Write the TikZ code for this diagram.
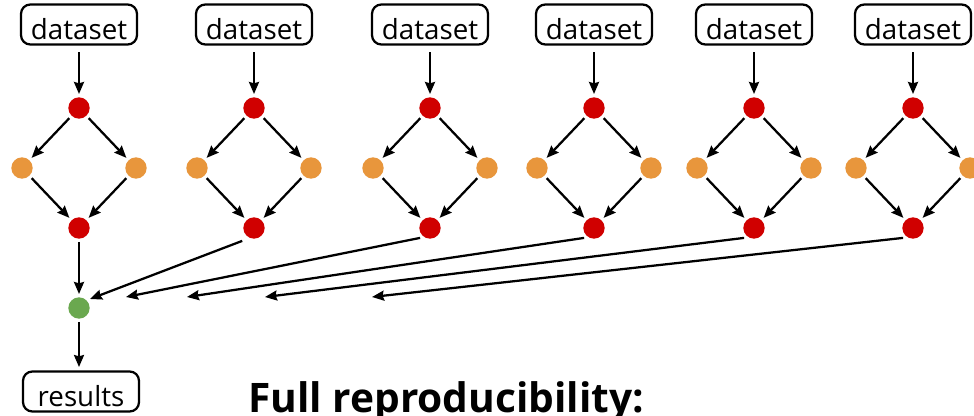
\documentclass[tikz,border=0pt]{standalone}
\usepackage{fontspec}
\setmainfont{Open Sans}
\usetikzlibrary{arrows.meta}
\definecolor{dred}{HTML}{D00000}
\definecolor{dorange}{HTML}{E8963C}
\definecolor{dgreen}{HTML}{6AA84F}
\begin{document}
\begin{tikzpicture}[x=0.75pt,y=-0.75pt,
  box/.style={draw,line width=1.7pt,rounded corners=7pt,minimum width=87pt,minimum height=30pt,
    inner ysep=0pt,text height=26.25pt,text depth=3.75pt,font=\fontsize{20.8}{24}\selectfont},
  dot/.style={circle,minimum size=16pt,inner sep=0pt,outer sep=2.5pt},
  reddot/.style={dot,fill=dred},
  orangedot/.style={dot,fill=dorange},
  greendot/.style={dot,fill=dgreen},
  arr/.style={line width=1.7pt,-{Stealth[length=9pt,width=7.5pt,inset=1pt]}},
]
\useasboundingbox (0,0) rectangle (974,416);
\foreach \i/\x in {1/79,2/254,3/430,4/594,5/754,6/913}{
  \node[box] (d\i) at (\x,24.5) {dataset};
  \node[reddot] (t\i) at (\x,108) {};
  \node[orangedot] (l\i) at (\x-57,168) {};
  \node[orangedot] (r\i) at (\x+57,168) {};
  \node[reddot] (b\i) at (\x,228) {};
  \draw[arr,shorten <=5pt] (d\i) -- (t\i);
  \draw[arr] (t\i) -- (l\i);
  \draw[arr] (t\i) -- (r\i);
  \draw[arr] (l\i) -- (b\i);
  \draw[arr] (r\i) -- (b\i);
}
\node[greendot] (g) at (79,308) {};
\node[box] (res) at (81,391.5) {results};
\draw[arr] (b1) -- (g);
\draw[arr,shorten >=2.5pt] (g) -- (g |- res.north);
\coordinate (e2) at (90,299);
\coordinate (e3) at (126,297);
\coordinate (e4) at (187,297);
\coordinate (e5) at (265,297);
\coordinate (e6) at (372,297);
\draw[arr,shorten <=3pt] (b2.235) -- (e2);
\foreach \i in {3,4,5,6}{
  \draw[arr] (b\i.south west) -- (e\i);
}
\node[anchor=base west,inner sep=0pt,font=\fontsize{30.5}{36}\bfseries] (title) at (248,412) {Full reproducibility:};
\end{tikzpicture}
\end{document}
